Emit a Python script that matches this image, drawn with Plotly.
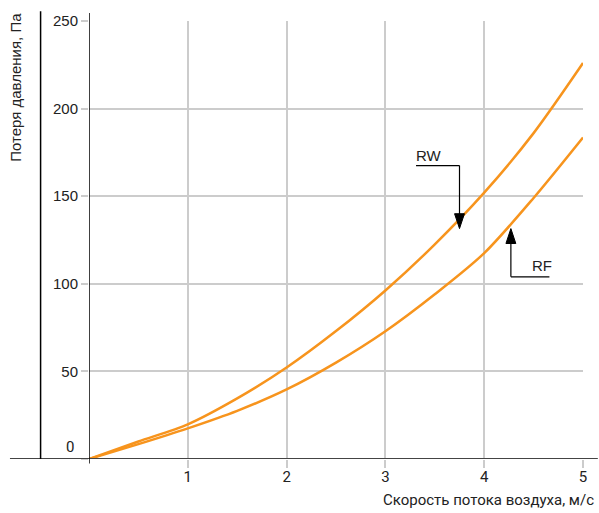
import plotly.graph_objects as go

speed = [0, 0.5, 1, 1.5, 2, 2.5, 3, 3.5, 4, 4.5, 5]
rw = [0, 10, 19.8, 34.6, 52.2, 73, 96.2, 122.5, 152, 186, 226]
rf = [0, 8.5, 17.5, 27.5, 39.7, 55, 72.9, 94, 117.5, 149, 183.5]
x_ticks = [1, 2, 3, 4, 5]
y_ticks = [0, 50, 100, 150, 200, 250]

orange = "#F7941D"
fig = go.Figure()
fig.add_trace(go.Scatter(x=speed, y=rw, mode="lines", line=dict(color=orange, width=2.5, shape="spline", smoothing=0.8), name="RW"))
fig.add_trace(go.Scatter(x=speed, y=rf, mode="lines", line=dict(color=orange, width=2.5, shape="spline", smoothing=0.8), name="RF"))

font = "Roboto, Arial, sans-serif"
font2 = "Liberation Sans, Arial, sans-serif"
fig.update_layout(
    width=599, height=513,
    margin=dict(l=89, r=14, t=20, b=54),
    paper_bgcolor="white", plot_bgcolor="white",
    showlegend=False,
    font=dict(family=font, size=14, color="#222"),
    xaxis=dict(range=[0, 5], tickvals=x_ticks, showgrid=True, gridcolor="#cccccc", gridwidth=1.5,
               ticks="outside", ticklen=8, tickcolor="#cccccc", tickwidth=1.5, ticklabelstandoff=-4,
               zeroline=False, showline=False, tickfont=dict(size=15, family=font, color="#222")),
    yaxis=dict(range=[0, 250], tickvals=y_ticks, ticktext=["", "50", "100", "150", "200", "250"],
               showgrid=True, gridcolor="#cccccc", gridwidth=1.5,
               ticks="outside", ticklen=7, tickcolor="#cccccc", tickwidth=1.5,
               zeroline=False, showline=False, tickfont=dict(size=15, family=font2, color="#222")),
)

shapes = [
    dict(type="line", xref="paper", yref="y", x0=-0.16, x1=1.03, y0=0, y1=0, line=dict(color="#444", width=2)),
    dict(type="line", xref="x", yref="paper", x0=0, x1=0, y0=-0.01, y1=1.018, line=dict(color="black", width=1.5)),
    dict(type="line", xref="paper", yref="paper", x0=-0.098, x1=-0.098, y0=0, y1=1.022, line=dict(color="black", width=1.5)),
    # RW leader
    dict(type="line", xref="x", yref="y", x0=3.31, x1=3.75, y0=167.5, y1=167.5, line=dict(color="black", width=1.2)),
    dict(type="line", xref="x", yref="y", x0=3.75, x1=3.75, y0=167.5, y1=139, line=dict(color="black", width=1.2)),
    dict(type="path", xref="x", yref="y", path="M 3.70,140 L 3.80,140 L 3.75,131.5 Z",
         fillcolor="black", line=dict(color="black", width=1)),
    # RF leader
    dict(type="line", xref="x", yref="y", x0=4.27, x1=4.66, y0=104, y1=104, line=dict(color="black", width=1.2)),
    dict(type="line", xref="x", yref="y", x0=4.27, x1=4.27, y0=104, y1=124, line=dict(color="black", width=1.2)),
    dict(type="path", xref="x", yref="y", path="M 4.22,123 L 4.32,123 L 4.27,131.5 Z",
         fillcolor="black", line=dict(color="black", width=1)),
]
fig.update_layout(shapes=shapes)

ann = [
    dict(x=3.44, y=173.5, xref="x", yref="y", text="RW", showarrow=False, font=dict(size=15, family=font2, color="#222")),
    dict(x=4.58, y=110.5, xref="x", yref="y", text="RF", showarrow=False, font=dict(size=15, family=font2, color="#222")),
    dict(x=0, y=0, xref="paper", yref="y", text="0", showarrow=False, xanchor="right", xshift=-13, yshift=12,
         font=dict(size=15, family=font, color="#222")),
    dict(x=-0.149, y=1.023, xref="paper", yref="paper", text="Потеря давления, Па", textangle=-90, showarrow=False,
         xanchor="center", yanchor="top", font=dict(size=15, family=font2, color="#222")),
    dict(x=1.026, y=-0.093, xref="paper", yref="paper", text="Скорость потока воздуха, м/с", showarrow=False,
         xanchor="right", yanchor="middle", font=dict(size=15, family=font, color="#222")),
]
fig.update_layout(annotations=ann)

fig.write_html("out.html", config={"displayModeBar": False},
               post_script="document.body.style.margin='0';document.body.style.padding='0';")
